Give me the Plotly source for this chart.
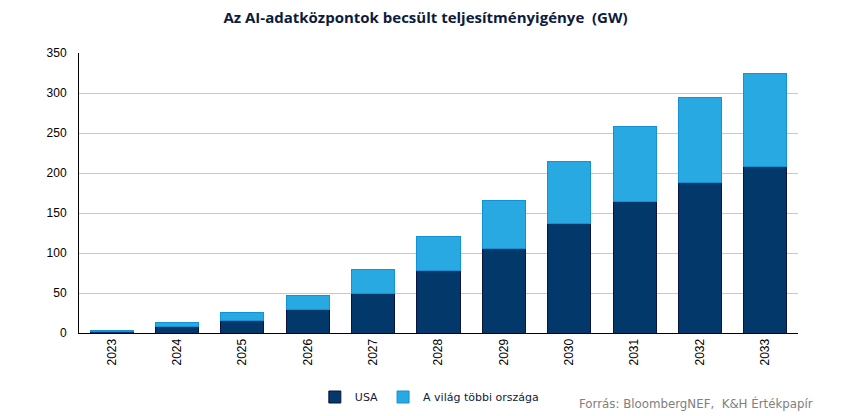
import plotly.graph_objects as go

years = ["2023", "2024", "2025", "2026", "2027", "2028", "2029", "2030", "2031", "2032", "2033"]
usa = [2, 8, 16, 30, 50, 78, 106, 137, 165, 188, 208]
rest = [1, 5, 10, 17, 30, 43, 60, 78, 93, 107, 117]
y_ticks = [0, 50, 100, 150, 200, 250, 300, 350]

W, H = 842, 408

fig = go.Figure()
fig.add_trace(go.Bar(x=years, y=usa, name="USA", marker=dict(color="#02386a", line=dict(color="#0b1240", width=1))))
fig.add_trace(go.Bar(x=years, y=rest, name="A világ többi országa", marker=dict(color="#29a9e1", line=dict(color="#1591d6", width=1))))

fig.update_layout(
    width=W, height=H,
    barmode="stack", bargap=0.34,
    plot_bgcolor="white", paper_bgcolor="white",
    margin=dict(l=71, r=52, t=45, b=83, autoexpand=False),
    title=dict(text="<b>Az AI-adatközpontok becsült teljesítményigénye  (GW)</b>", x=417.5 / W, xanchor="center",
               xref="container", yref="container",
               y=1 - 10 / H, yanchor="middle", font=dict(family="Open Sans", size=15, color="#0d1b3e")),
    font=dict(family="Liberation Sans", size=12, color="#000000"),
    xaxis=dict(tickangle=-90, showline=True, linecolor="#000000", linewidth=1, ticks="", tickfont=dict(size=12, family="Liberation Sans")),
    yaxis=dict(range=[0, 350], tickvals=y_ticks, showline=True, linecolor="#000000", linewidth=1,
               gridcolor="#c8c8c8", gridwidth=1, zeroline=False, ticks="outside", ticklen=9, tickcolor="rgba(0,0,0,0)",
               tickfont=dict(size=12, family="Liberation Sans")),
    legend=dict(orientation="h", x=0.328, xanchor="left", yref="container", y=19 / H, yanchor="middle",
                font=dict(family="DejaVu Sans", size=11, color="#0d1b3e"), itemwidth=30, traceorder="normal"),
    annotations=[dict(text="Forrás: BloombergNEF,  K&H Értékpapír", xref="paper", yref="paper",
                      x=(807 - 71) / 719, y=-(395 - 325) / 280, xanchor="right", yanchor="middle", showarrow=False,
                      font=dict(family="DejaVu Sans", size=11.8, color="#808080"))],
)
fig.write_html("out.html")
